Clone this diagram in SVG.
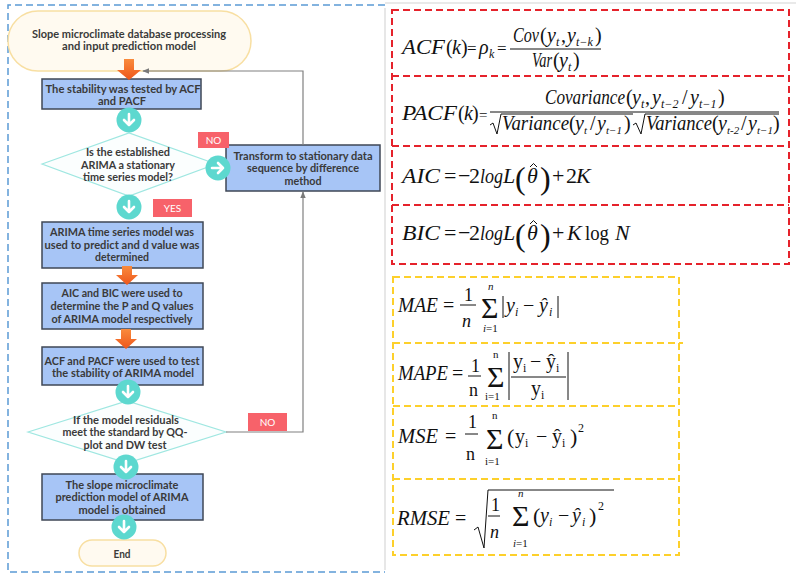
<svg xmlns="http://www.w3.org/2000/svg" width="798" height="578" viewBox="0 0 798 578">
<defs>
<linearGradient id="og" x1="0" y1="0" x2="0" y2="1"><stop offset="0" stop-color="#f98b3d"/><stop offset="1" stop-color="#ee561b"/></linearGradient>
<marker id="ah" viewBox="0 0 10 10" refX="9" refY="5" markerWidth="6" markerHeight="6" orient="auto-start-reverse"><path d="M0,1 L10,5 L0,9 z" fill="#7a7a7a"/></marker>
</defs>
<style>
.t{font-family:Lato,"Open Sans","Liberation Sans",sans-serif;font-weight:700;font-size:11px;fill:#3a3a3a;text-anchor:middle}
.box{fill:#a7c5f6;stroke:#3f4756;stroke-width:1.5}
.dia{fill:#fbfefe;stroke:#9fe7e1;stroke-width:1.2}
.term{fill:#fffaf0;stroke:#f8dfa2;stroke-width:1.5}
.lbl{fill:#f7626a}
.lt{font-family:Lato,"Liberation Sans",sans-serif;font-size:10px;fill:#fff;text-anchor:middle}
.tc{fill:#5dd8cf}
.ta{fill:none;stroke:#fff;stroke-width:2.6;stroke-linecap:round;stroke-linejoin:round}
.cn{fill:none;stroke:#808080;stroke-width:1.2}
.oa{fill:url(#og)}
.m{font-family:"Liberation Serif","Times New Roman",serif;font-style:italic;fill:#111}
.u{font-family:"Liberation Serif","Times New Roman",serif;font-style:normal;fill:#111}
.ml{stroke:#111;stroke-width:1;fill:none}
.red{fill:none;stroke:#e5222b;stroke-width:2;stroke-dasharray:7 4}
.yel{fill:none;stroke:#fdd02b;stroke-width:2;stroke-dasharray:7 4}
</style>
<rect width="798" height="578" fill="#fff"/>
<g id="frame">
<path d="M385,5 H8 V572 H385" fill="none" stroke="#5b9bd5" stroke-width="1.5" stroke-dasharray="7 4"/>
<line x1="385" y1="8" x2="385" y2="570" stroke="#cfcfcf" stroke-width="1"/>
<line x1="385" y1="3" x2="796" y2="3" stroke="#e9e9e9" stroke-width="2"/>
</g>
<g id="start"><rect class="term" x="8" y="11" width="243" height="60" rx="30"/>
<text class="t" x="129" y="38" textLength="194" lengthAdjust="spacingAndGlyphs">Slope microclimate database processing</text>
<text class="t" x="129" y="50" textLength="134" lengthAdjust="spacingAndGlyphs">and input prediction model</text></g>
<g id="box1"><rect class="box" x="42" y="79" width="159" height="30"/>
<text class="t" x="123" y="93" textLength="155" lengthAdjust="spacingAndGlyphs">The stability was tested by ACF</text>
<text class="t" x="122" y="105" textLength="48" lengthAdjust="spacingAndGlyphs">and PACF</text></g>
<g id="dia1"><polygon class="dia" points="42,164 129,133 216,164 129,196"/>
<text class="t" x="128" y="156" textLength="84" lengthAdjust="spacingAndGlyphs">Is the established</text>
<text class="t" x="128" y="169" textLength="94" lengthAdjust="spacingAndGlyphs">ARIMA a stationary</text>
<text class="t" x="128" y="181" textLength="90" lengthAdjust="spacingAndGlyphs">time series model?</text></g>
<g id="transform"><rect class="box" x="226" y="145" width="154" height="46"/>
<text class="t" x="303" y="160" textLength="139" lengthAdjust="spacingAndGlyphs">Transform to stationary data</text>
<text class="t" x="303" y="172" textLength="112" lengthAdjust="spacingAndGlyphs">sequence by difference</text>
<text class="t" x="303" y="185" textLength="37" lengthAdjust="spacingAndGlyphs">method</text></g>
<g id="box2"><rect class="box" x="42" y="222" width="161" height="46"/>
<text class="t" x="122" y="236" textLength="144" lengthAdjust="spacingAndGlyphs">ARIMA time series model was</text>
<text class="t" x="122" y="249" textLength="155" lengthAdjust="spacingAndGlyphs">used to predict and d value was</text>
<text class="t" x="122" y="261" textLength="54" lengthAdjust="spacingAndGlyphs">determined</text></g>
<g id="box3"><rect class="box" x="42" y="283" width="161" height="46"/>
<text class="t" x="122" y="297" textLength="121" lengthAdjust="spacingAndGlyphs">AIC and BIC were used to</text>
<text class="t" x="122" y="310" textLength="143" lengthAdjust="spacingAndGlyphs">determine the P and Q values</text>
<text class="t" x="122" y="323" textLength="141" lengthAdjust="spacingAndGlyphs">of ARIMA model respectively</text></g>
<g id="box4"><rect class="box" x="42" y="347" width="161" height="38"/>
<text class="t" x="122" y="365" textLength="155" lengthAdjust="spacingAndGlyphs">ACF and PACF were used to test</text>
<text class="t" x="123" y="377" textLength="142" lengthAdjust="spacingAndGlyphs">the stability of ARIMA model</text></g>
<g id="dia2"><polygon class="dia" points="28,432 127,401 226,432 127,463"/>
<text class="t" x="126" y="424" textLength="106" lengthAdjust="spacingAndGlyphs">If the model residuals</text>
<text class="t" x="125" y="436" textLength="125" lengthAdjust="spacingAndGlyphs">meet the standard by QQ-</text>
<text class="t" x="125" y="449" textLength="83" lengthAdjust="spacingAndGlyphs">plot and DW test</text></g>
<g id="box5"><rect class="box" x="42" y="474" width="161" height="46"/>
<text class="t" x="122" y="489" textLength="113" lengthAdjust="spacingAndGlyphs">The slope microclimate</text>
<text class="t" x="122" y="501" textLength="133" lengthAdjust="spacingAndGlyphs">prediction model of ARIMA</text>
<text class="t" x="122" y="514" textLength="87" lengthAdjust="spacingAndGlyphs">model is obtained</text></g>
<g id="end"><rect class="term" x="79" y="540" width="87" height="26" rx="13"/>
<text class="t" x="122" y="558" textLength="17" lengthAdjust="spacingAndGlyphs">End</text></g>
<g id="connectors">
<path class="cn" d="M303,145 V71 H143" marker-end="url(#ah)"/>
<path class="cn" d="M226,432 H303 V192" marker-end="url(#ah)"/>
<path class="oa" d="M124,59 H134 V70 H141 L129,80 L117,70 H124 Z"/>
<path class="oa" d="M122,266 H132 V275 H138 L127,285 L116,275 H122 Z"/>
<path class="oa" d="M121,329 H131 V339 H137 L126,349 L115,339 H121 Z"/>
<circle class="tc" cx="129" cy="120" r="12.5"/><path class="ta" d="M129,114 V125 M124,120 L129,125 L134,120"/>
<circle class="tc" cx="129" cy="207" r="12.5"/><path class="ta" d="M129,201 V212 M124,207 L129,212 L134,207"/>
<circle class="tc" cx="218" cy="168" r="12.5"/><path class="ta" d="M212,168 H223 M218,163 L223,168 L218,173"/>
<circle class="tc" cx="128" cy="392" r="12.5"/><path class="ta" d="M128,386 V397 M123,392 L128,397 L133,392"/>
<circle class="tc" cx="126" cy="467" r="12.5"/><path class="ta" d="M126,461 V472 M121,467 L126,472 L131,467"/>
<circle class="tc" cx="124" cy="527" r="12.5"/><path class="ta" d="M124,521 V532 M119,527 L124,532 L129,527"/>
<rect class="lbl" x="198" y="132" width="31" height="16"/><text class="lt" x="213.5" y="143.5">NO</text>
<rect class="lbl" x="153" y="199" width="39" height="18"/><text class="lt" x="172.5" y="211.5">YES</text>
<rect class="lbl" x="248" y="413" width="39" height="18"/><text class="lt" x="267.5" y="425.5">NO</text>
</g>
<g id="redbox">
<rect class="red" x="392" y="10" width="397" height="254"/>
<line class="red" x1="392" y1="76" x2="789" y2="76"/>
<line class="red" x1="392" y1="146" x2="789" y2="146"/>
<line class="red" x1="392" y1="205" x2="789" y2="205"/>
</g>
<g id="yellowbox">
<rect class="yel" x="393" y="277" width="286" height="278"/>
<line class="yel" x1="393" y1="343" x2="683" y2="343"/>
<line class="yel" x1="393" y1="406" x2="679" y2="406"/>
<line class="yel" x1="393" y1="479" x2="679" y2="479"/>
</g>
<g id="f-acf" font-size="20">
<text class="m" x="402" y="54" textLength="43" lengthAdjust="spacingAndGlyphs">ACF</text>
<text class="u" x="446" y="54">(</text><text class="m" x="452" y="54">k</text><text class="u" x="461" y="54">)</text>
<text class="u" x="467" y="54" font-size="17">=</text><text class="m" x="479" y="54">ρ</text><text class="m" x="489" y="58" font-size="12">k</text>
<text class="u" x="497" y="54" font-size="17">=</text>
<line class="ml" x1="510" y1="49" x2="601" y2="49"/>
<text class="m" x="513" y="42" textLength="26" lengthAdjust="spacingAndGlyphs">Cov</text>
<text class="u" x="540" y="42">(</text><text class="m" x="547" y="42">y</text><text class="m" x="556" y="46" font-size="12">t</text>
<text class="u" x="561" y="42">,</text><text class="m" x="567" y="42">y</text><text class="m" x="576" y="46" font-size="12">t−k</text>
<text class="u" x="595" y="42">)</text>
<text class="m" x="532" y="67" textLength="20" lengthAdjust="spacingAndGlyphs">Var</text>
<text class="u" x="553" y="67">(</text><text class="m" x="559" y="67">y</text><text class="m" x="568" y="71" font-size="12">t</text><text class="u" x="573" y="67">)</text>
</g>
<g id="f-pacf" font-size="20">
<text class="m" x="402" y="120" textLength="55" lengthAdjust="spacingAndGlyphs">PACF</text>
<text class="u" x="458" y="120">(</text><text class="m" x="464" y="120">k</text><text class="u" x="472" y="120">)</text>
<text class="u" x="479" y="120" font-size="15">=</text>
<line class="ml" x1="490" y1="112" x2="779" y2="112"/>
<text class="m" x="545" y="104" textLength="80" lengthAdjust="spacingAndGlyphs">Covariance</text>
<text class="u" x="626" y="104">(</text><text class="m" x="632" y="104">y</text><text class="m" x="641" y="108" font-size="12">t</text>
<text class="u" x="645" y="104">,</text><text class="m" x="652" y="104">y</text><text class="m" x="661" y="108" font-size="12">t−2</text>
<text class="u" x="682" y="104">/</text><text class="m" x="690" y="104">y</text><text class="m" x="699" y="108" font-size="12">t−1</text>
<text class="u" x="718" y="104">)</text>
<path class="ml" d="M490,125 L493,123 L497,134 L501,114 H633"/>
<path class="ml" d="M633,125 L636,123 L641,134 L645,114 H779"/>
<text class="m" x="502" y="130" textLength="67" lengthAdjust="spacingAndGlyphs">Variance</text>
<text class="u" x="569" y="130">(</text><text class="m" x="575" y="130">y</text><text class="m" x="584" y="134" font-size="11">t</text>
<text class="u" x="590" y="130">/</text><text class="m" x="597" y="130">y</text><text class="m" x="606" y="134" font-size="11">t−1</text>
<text class="u" x="624" y="130">)</text>
<text class="m" x="646" y="130" textLength="66" lengthAdjust="spacingAndGlyphs">Variance</text>
<text class="u" x="712" y="130">(</text><text class="m" x="718" y="130">y</text><text class="m" x="727" y="134" font-size="11">t-2</text>
<text class="u" x="741" y="130">/</text><text class="m" x="748" y="130">y</text><text class="m" x="757" y="134" font-size="11">t−1</text>
<text class="u" x="773" y="130">)</text>
</g>
<g id="f-aic" font-size="22">
<text class="m" x="402" y="183" textLength="38" lengthAdjust="spacingAndGlyphs">AIC</text>
<text class="u" x="444" y="183">=</text><text class="u" x="458" y="183">−</text>
<text class="u" x="469" y="183">2</text>
<text class="m" x="480" y="183" textLength="23" lengthAdjust="spacingAndGlyphs">log</text>
<text class="m" x="503" y="183">L</text>
<text class="u" x="515" y="189" font-size="32">(</text><text class="m" x="527" y="183">θ</text><path class="ml" d="M530,167 L533.5,163.5 L537,167"/><text class="u" x="540" y="189" font-size="32">)</text>
<text class="u" x="552" y="183">+</text><text class="u" x="566" y="183">2</text><text class="m" x="576" y="183">K</text>
</g>
<g id="f-bic" font-size="22">
<text class="m" x="402" y="240" textLength="38" lengthAdjust="spacingAndGlyphs">BIC</text>
<text class="u" x="444" y="240">=</text><text class="u" x="458" y="240">−</text>
<text class="u" x="469" y="240">2</text>
<text class="m" x="480" y="240" textLength="23" lengthAdjust="spacingAndGlyphs">log</text>
<text class="m" x="503" y="240">L</text>
<text class="u" x="515" y="246" font-size="32">(</text><text class="m" x="527" y="240">θ</text><path class="ml" d="M530,224 L533.5,220.5 L537,224"/><text class="u" x="540" y="246" font-size="32">)</text>
<text class="u" x="552" y="240">+</text><text class="m" x="567" y="240">K</text>
<text class="u" x="585" y="240" textLength="24" lengthAdjust="spacingAndGlyphs">log</text>
<text class="m" x="615" y="240">N</text>
</g>
<g id="f-mae" font-size="20">
<text class="m" x="398" y="312" textLength="40" lengthAdjust="spacingAndGlyphs">MAE</text>
<text class="u" x="443" y="312">=</text>
<text class="u" x="464" y="301" font-size="18">1</text><line class="ml" x1="460" y1="305" x2="476" y2="305"/><text class="m" x="462" y="327" font-size="18">n</text>
<text class="u" x="481" y="318" font-size="30">Σ</text>
<text class="m" x="488" y="290" font-size="11">n</text>
<text class="m" x="483" y="332" font-size="11">i<tspan font-style="normal">=1</tspan></text>
<line class="ml" x1="503" y1="296" x2="503" y2="318"/>
<text class="m" x="506" y="312">y</text><text class="m" x="515" y="316" font-size="12">i</text>
<text class="u" x="523" y="312">−</text>
<text class="m" x="539" y="312">ŷ</text><text class="m" x="549" y="316" font-size="12">i</text>
<line class="ml" x1="558" y1="296" x2="558" y2="318"/>
</g>
<g id="f-mape" font-size="20">
<text class="m" x="398" y="380" textLength="50" lengthAdjust="spacingAndGlyphs">MAPE</text>
<text class="u" x="452" y="380">=</text>
<text class="u" x="471" y="372" font-size="18">1</text><line class="ml" x1="468" y1="376" x2="481" y2="376"/><text class="u" x="469" y="396" font-size="18">n</text>
<text class="u" x="487" y="387" font-size="30">Σ</text>
<text class="u" x="493" y="358" font-size="11">n</text>
<text class="u" x="485" y="400" font-size="11">i=1</text>
<line class="ml" x1="509" y1="352" x2="509" y2="400"/>
<text class="u" x="513" y="368">y</text><text class="u" x="523" y="372" font-size="12">i</text>
<text class="u" x="530" y="368">−</text>
<text class="u" x="546" y="368">ŷ</text><text class="u" x="556" y="372" font-size="12">i</text>
<line class="ml" x1="511" y1="377" x2="566" y2="377"/>
<text class="u" x="531" y="395">y</text><text class="u" x="541" y="399" font-size="12">i</text>
<line class="ml" x1="568" y1="352" x2="568" y2="400"/>
</g>
<g id="f-mse" font-size="20">
<text class="m" x="398" y="443" textLength="40" lengthAdjust="spacingAndGlyphs">MSE</text>
<text class="u" x="445" y="443">=</text>
<text class="u" x="468" y="428" font-size="18">1</text><line class="ml" x1="465" y1="434" x2="478" y2="434"/><text class="u" x="466" y="460" font-size="18">n</text>
<text class="u" x="486" y="449" font-size="30">Σ</text>
<text class="u" x="492" y="419" font-size="11">n</text>
<text class="u" x="485" y="465" font-size="11">i=1</text>
<text class="u" x="507" y="444" font-size="22">(</text>
<text class="u" x="515" y="443">y</text><text class="u" x="525" y="447" font-size="12">i</text>
<text class="u" x="536" y="443">−</text>
<text class="u" x="552" y="443">ŷ</text><text class="u" x="562" y="447" font-size="12">i</text>
<text class="u" x="570" y="444" font-size="22">)</text>
<text class="u" x="578" y="432" font-size="12">2</text>
</g>
<g id="f-rmse" font-size="20">
<text class="m" x="397" y="525" textLength="53" lengthAdjust="spacingAndGlyphs">RMSE</text>
<text class="u" x="455" y="525">=</text>
<path class="ml" d="M474,530 L478,527 L484,548 L488,490 H614"/>
<text class="u" x="491" y="511" font-size="18">1</text><line class="ml" x1="488" y1="516" x2="500" y2="516"/><text class="m" x="490" y="538" font-size="18">n</text>
<text class="u" x="512" y="526" font-size="30">Σ</text>
<text class="m" x="518" y="497" font-size="11">n</text>
<text class="m" x="513" y="547" font-size="11">i<tspan font-style="normal">=1</tspan></text>
<text class="u" x="533" y="523" font-size="22">(</text>
<text class="m" x="540" y="522">y</text><text class="m" x="549" y="526" font-size="12">i</text>
<text class="u" x="558" y="522">−</text>
<text class="m" x="572" y="522">ŷ</text><text class="m" x="582" y="526" font-size="12">i</text>
<text class="u" x="589" y="523" font-size="22">)</text>
<text class="u" x="598" y="510" font-size="12">2</text>
</g>
</svg>
